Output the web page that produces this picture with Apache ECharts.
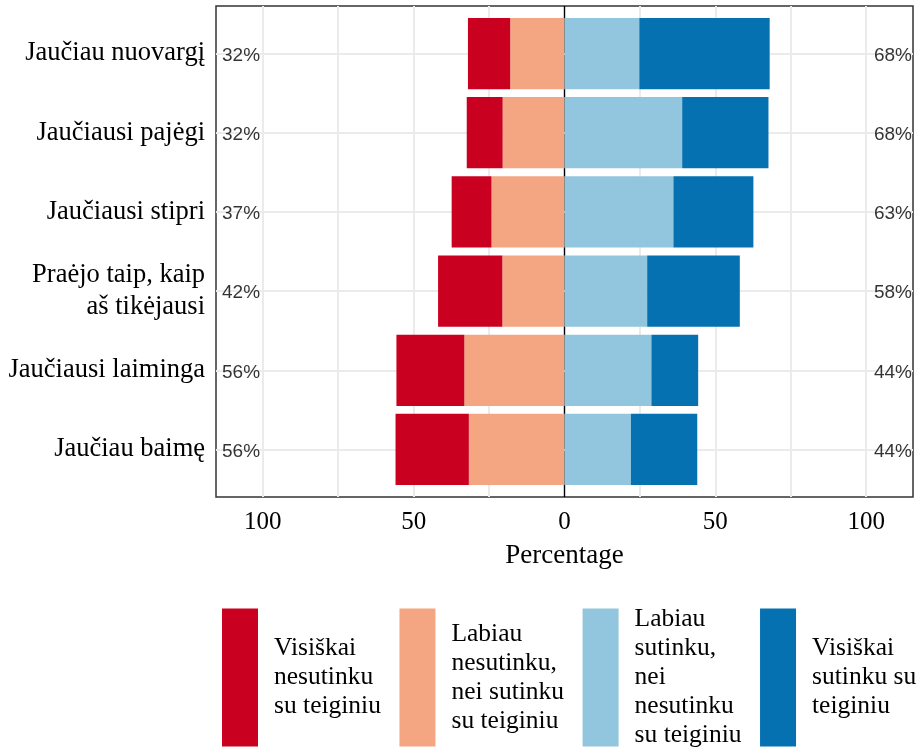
<!DOCTYPE html>
<html>
<head>
<meta charset="utf-8">
<script src="https://cdn.jsdelivr.net/npm/echarts@6/dist/echarts.min.js"></script>
<style>
html,body{margin:0;padding:0;background:#fff;}
#chart{width:924px;height:749px;}
</style>
</head>
<body>
<div id="chart"></div>
<script>
// ---- data ----
const categories = ['Jaučiau nuovargį', 'Jaučiausi pajėgi', 'Jaučiausi stipri', 'Praėjo taip, kaip\naš tikėjausi', 'Jaučiausi laiminga', 'Jaučiau baimę'];
const stronglyDisagree = [14.0, 11.9, 13.2, 21.3, 22.5, 24.3];
const disagree = [18.0, 20.5, 24.2, 20.6, 33.2, 31.7];
const agree = [24.8, 39.0, 36.1, 27.4, 28.8, 22.0];
const stronglyAgree = [43.2, 28.6, 26.5, 30.7, 15.5, 22.0];
const leftLabels = [32, 32, 37, 42, 56, 56];
const rightLabels = [68, 68, 63, 58, 44, 44];
const seriesNames = ['Visiškai nesutinku su teiginiu', 'Labiau nesutinku, nei sutinku su teiginiu', 'Labiau sutinku, nei nesutinku su teiginiu', 'Visiškai sutinku su teiginiu'];
const legendTexts = ['Visiškai\nnesutinku\nsu teiginiu', 'Labiau\nnesutinku,\nnei sutinku\nsu teiginiu', 'Labiau\nsutinku,\nnei\nnesutinku\nsu teiginiu', 'Visiškai\nsutinku su\nteiginiu'];
const gridValues = [-100, -75, -50, -25, 25, 50, 75, 100];
const xMin = -115.5, xMax = 115.5;
const colors = ['#CA0020', '#F4A582', '#92C5DE', '#0571B0'];

// ---- layout ----
const frameTop = 6, frameBottomY = 497, W = 924, H = 749;
const unit = (frameBottomY - frameTop) / 6.2;
const g1Top = frameTop + 0.1 * unit;
const g1Bottom = H - (g1Top + 6 * unit);
const SERIF = "'Liberation Serif', 'Times New Roman', serif";
const SANS = "'Liberation Sans', Arial, sans-serif";

const chart = echarts.init(document.getElementById('chart'), null, {renderer: 'canvas'});

const nameToLegend = {};
seriesNames.forEach((n, i) => nameToLegend[n] = legendTexts[i]);

const barSeries = (name, data, color, negative) => ({
  name: name,
  type: 'bar',
  stack: 'total',
  xAxisIndex: 1,
  yAxisIndex: 1,
  barWidth: '90%',
  z: 3,
  itemStyle: {color: color},
  data: data.map(v => negative ? -v : v)
});

const option = {
  animation: false,
  backgroundColor: '#fff',
  grid: [
    {left: 216, right: W - 913, top: frameTop, bottom: H - frameBottomY, show: true, borderColor: '#333', borderWidth: 1.5, backgroundColor: 'transparent'},
    {left: 216, right: W - 913, top: g1Top, bottom: g1Bottom, show: false}
  ],
  xAxis: [
    {
      gridIndex: 0, type: 'value', min: xMin, max: xMax,
      axisLine: {show: false}, axisTick: {show: false}, splitLine: {show: false},
      axisLabel: {
        fontFamily: SERIF, fontSize: 25, color: '#000', margin: 13,
        formatter: v => (Math.abs(Math.round(v)) % 50 === 0 && Math.abs(v - Math.round(v)) < 1e-6) ? String(Math.abs(Math.round(v))) : ''
      },
      name: 'Percentage', nameLocation: 'middle', nameGap: 45,
      nameTextStyle: {fontFamily: SERIF, fontSize: 27, color: '#000'}
    },
    {gridIndex: 1, type: 'value', min: xMin, max: xMax, show: false}
  ],
  yAxis: [
    {gridIndex: 0, type: 'value', min: 0, max: 1, show: false},
    {
      gridIndex: 1, type: 'category', data: categories, inverse: true,
      axisLine: {show: false}, axisTick: {show: false}, splitLine: {show: false},
      axisLabel: {fontFamily: SERIF, fontSize: 26.5, lineHeight: 32, color: '#000', margin: 11, align: 'right', padding: [4, 0, 0, 0]}
    }
  ],
  legend: {
    data: seriesNames,
    orient: 'horizontal',
    left: 222, top: 605,
    padding: 0,
    itemWidth: 36, itemHeight: 138, itemGap: 18.5,
    icon: 'rect',
    selectedMode: false,
    formatter: name => nameToLegend[name],
    textStyle: {fontFamily: SERIF, fontSize: 25.5, lineHeight: 29, color: '#000', padding: [0, 0, 0, 11]}
  },
  series: [
    {
      type: 'scatter', xAxisIndex: 0, yAxisIndex: 0, z: 1, silent: true,
      symbolSize: 0, data: [[0, 0.5]],
      markLine: {
        z: 1, silent: true, symbol: ['none', 'none'], label: {show: false},
        data: gridValues.map(v => ({xAxis: v, lineStyle: {color: '#ebebeb', width: 2, type: 'solid'}}))
          .concat([{xAxis: 0, lineStyle: {color: '#000', width: 1.4, type: 'solid'}}])
      }
    },
    {
      type: 'scatter', xAxisIndex: 1, yAxisIndex: 1, z: 1, silent: true,
      symbolSize: 0, data: [[0, categories[0]]],
      markLine: {
        z: 1, silent: true, symbol: ['none', 'none'], label: {show: false},
        data: categories.map(c => ({yAxis: c, lineStyle: {color: '#ebebeb', width: 2, type: 'solid'}}))
      }
    },
    barSeries(seriesNames[1], disagree, colors[1], true),
    barSeries(seriesNames[0], stronglyDisagree, colors[0], true),
    barSeries(seriesNames[2], agree, colors[2], false),
    barSeries(seriesNames[3], stronglyAgree, colors[3], false),
    {
      type: 'scatter', xAxisIndex: 1, yAxisIndex: 1, z: 4, silent: true, clip: false,
      symbolSize: 0,
      data: leftLabels.map((v, i) => ({value: [xMin, categories[i]], label: {show: true, position: 'right', distance: 6, offset: [0, 2], formatter: v + '%', fontFamily: SANS, fontSize: 19, color: '#000'}}))
        .concat(rightLabels.map((v, i) => ({value: [xMax, categories[i]], label: {show: true, position: 'left', distance: 1, offset: [0, 2], formatter: v + '%', fontFamily: SANS, fontSize: 19, color: '#000'}})))
    }
  ]
};
chart.setOption(option);
</script>
</body>
</html>
